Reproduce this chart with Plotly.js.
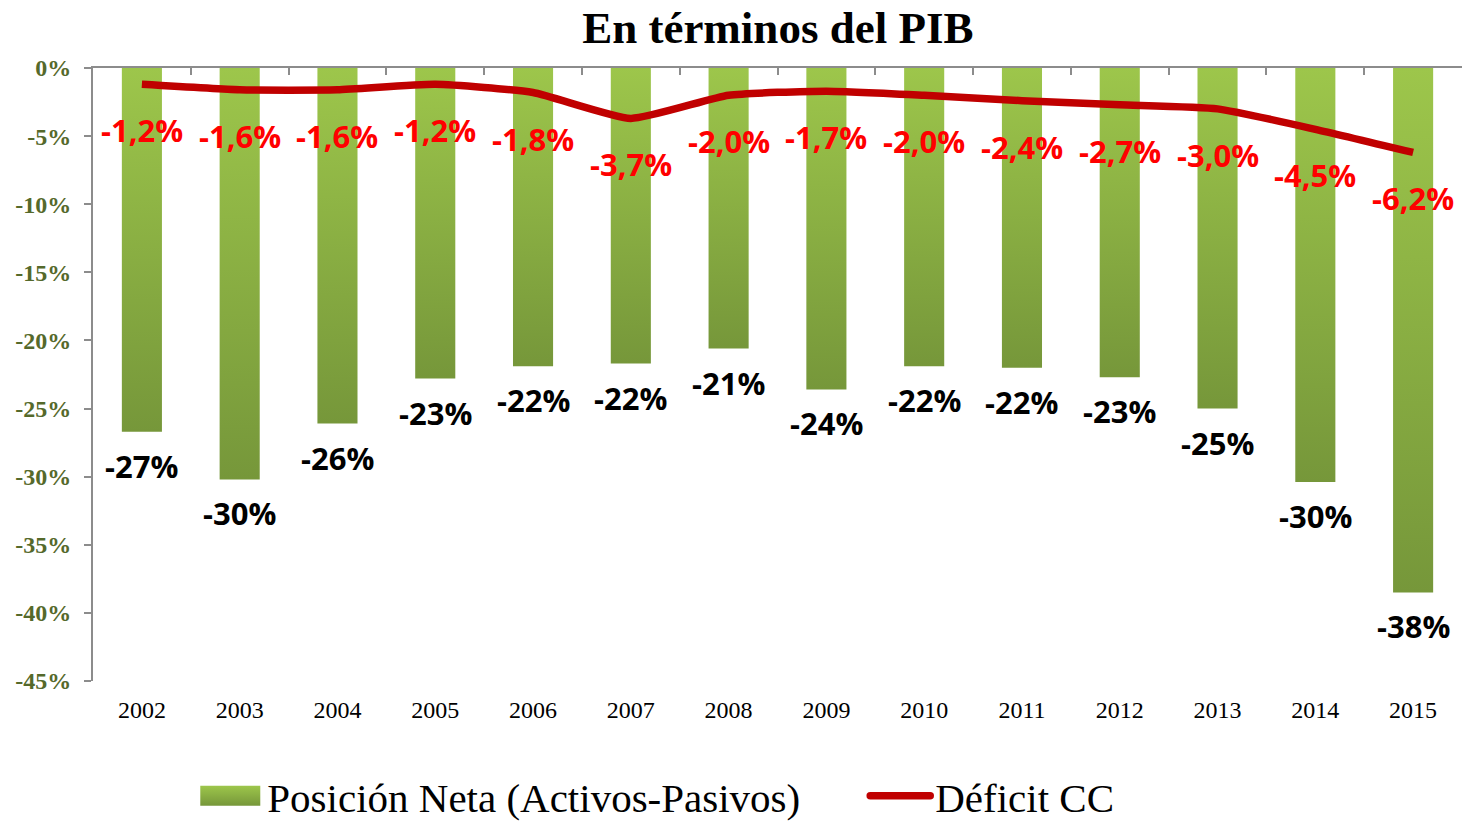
<!DOCTYPE html>
<html>
<head>
<meta charset="utf-8">
<script src="https://cdn.plot.ly/plotly-3.0.1.min.js"></script>
<style>html,body{margin:0;padding:0;background:#fff;}#chart{width:1462px;height:824px;}</style>
</head>
<body>
<div id="chart"></div>
<script>
const years = ['2002','2003','2004','2005','2006','2007','2008','2009','2010','2011','2012','2013','2014','2015'];
const posicionNeta = [-26.7,-30.2,-26.1,-22.8,-21.9,-21.7,-20.6,-23.6,-21.9,-22.0,-22.7,-25.0,-30.4,-38.5];
const deficitCC = [-1.2,-1.6,-1.6,-1.2,-1.8,-3.7,-2.0,-1.7,-2.0,-2.4,-2.7,-3.0,-4.5,-6.2];
const posicionLabels = ['-27%','-30%','-26%','-23%','-22%','-22%','-21%','-24%','-22%','-22%','-23%','-25%','-30%','-38%'];
const deficitLabels = ['-1,2%','-1,6%','-1,6%','-1,2%','-1,8%','-3,7%','-2,0%','-1,7%','-2,0%','-2,4%','-2,7%','-3,0%','-4,5%','-6,2%'];
const yTicks = [0,-5,-10,-15,-20,-25,-30,-35,-40,-45];

const serif = '"Liberation Serif", "DejaVu Serif", serif';
const sans = '"Open Sans", "Noto Sans", sans-serif';
const idx = years.map((_,i)=>i);

const data = [
  {
    type:'bar', x:years, y:posicionNeta, name:'Posición Neta (Activos-Pasivos)',
    marker:{color:'#8bb040'}, hoverinfo:'skip'
  },
  {
    type:'scatter', mode:'lines', x:idx, y:deficitCC, name:'Déficit CC', xaxis:'x2',
    line:{color:'#c00000', width:7.5, shape:'spline', smoothing:0.5}, hoverinfo:'skip'
  }
];

const annotations = [];
years.forEach((yr,i)=>{
  annotations.push({x:i, y:posicionNeta[i], xref:'x', yref:'y', text:posicionLabels[i], showarrow:false,
    yanchor:'middle', yshift:-34, font:{family:sans, size:31, color:'#000', weight:700}});
  annotations.push({x:i, y:deficitCC[i], xref:'x', yref:'y', text:deficitLabels[i], showarrow:false,
    yanchor:'middle', yshift:-46, font:{family:sans, size:31, color:'#ff0000', weight:700}});
});

const layout = {
  width:1462, height:824,
  margin:{l:93, r:0, t:68, b:143},
  paper_bgcolor:'#fff', plot_bgcolor:'#fff',
  title:{text:'<b>En términos del PIB</b>', x:0.532, xanchor:'center', y:0.967, yanchor:'middle',
    font:{family:serif, size:45, color:'#000'}},
  bargap:0.59,
  showlegend:true,
  legend:{orientation:'h', x:0.391, xanchor:'center', y:-0.12, yanchor:'top',
    font:{family:serif, size:41, color:'#000'}, itemwidth:60, tracegroupgap:0},
  xaxis:{type:'category', categoryarray:years, categoryorder:'array', range:[-0.5, years.length-0.5],
    showline:false, ticks:'', showgrid:false, zeroline:false,
    tickfont:{family:serif, size:24, color:'#000'}, ticklabelstandoff:12},
  xaxis2:{type:'linear', range:[-0.5, years.length-0.5], tick0:0.5, dtick:1,
    overlaying:'x', side:'top', anchor:'y', showline:true, linecolor:'#8c8c8c', linewidth:2,
    ticks:'inside', ticklen:7, tickwidth:2, tickcolor:'#8c8c8c',
    showticklabels:false, showgrid:false, zeroline:false},
  yaxis:{range:[-45,0], tickvals:yTicks, ticktext:yTicks.map(v=>v+'%'),
    showline:true, linecolor:'#8c8c8c', linewidth:2, ticks:'outside', ticklen:7, tickwidth:2,
    tickcolor:'#8c8c8c', showgrid:false, zeroline:false, ticklabelstandoff:8,
    tickfont:{family:serif, size:24, color:'#55692b', weight:700}},
  annotations:annotations
};

function shiftTranslate(el, dx, dy){
  const t = el.getAttribute('transform') || '';
  const m = t.match(/translate\(\s*([-\d.]+)[ ,]+([-\d.]+)\s*\)/);
  if(m){ el.setAttribute('transform','translate('+(parseFloat(m[1])+dx)+','+(parseFloat(m[2])+dy)+')'); }
}

Plotly.newPlot('chart', data, layout, {displayModeBar:false, staticPlot:true}).then(gd=>{
  const ns = 'http://www.w3.org/2000/svg';
  const svg = gd.querySelector('svg.main-svg');
  let defs = svg.querySelector('defs');
  if(!defs){defs = document.createElementNS(ns,'defs'); svg.insertBefore(defs, svg.firstChild);}
  const lg = document.createElementNS(ns,'linearGradient');
  lg.setAttribute('id','barGrad');
  lg.setAttribute('x1','0'); lg.setAttribute('y1','0'); lg.setAttribute('x2','0'); lg.setAttribute('y2','1');
  [['0','#9dc64b'],['1','#76973a']].forEach(([o,c])=>{
    const s = document.createElementNS(ns,'stop');
    s.setAttribute('offset',o); s.setAttribute('stop-color',c); lg.appendChild(s);
  });
  defs.appendChild(lg);
  gd.querySelectorAll('.barlayer .point path').forEach(p=>{p.style.fill='url(#barGrad)';});
  const leg = gd.querySelector('g.legend');
  if(leg) shiftTranslate(leg, 0, 8);
  const sb = gd.querySelector('.legend .scrollbox');
  if(sb) sb.removeAttribute('clip-path');
  const lt = gd.querySelectorAll('.legend .traces');
  if(lt.length){
    lt[0].querySelectorAll('.legendpoints path').forEach(p=>{
      p.style.fill='url(#barGrad)'; p.style.stroke='none';
      p.setAttribute('d','M-32,-10h60v20h-60z');
    });
  }
  if(lt.length>1){
    shiftTranslate(lt[1], 60, 0);
    lt[1].querySelectorAll('.legendlines path').forEach(p=>{p.style.strokeLinecap='round';});
  }
});
</script>
</body>
</html>
